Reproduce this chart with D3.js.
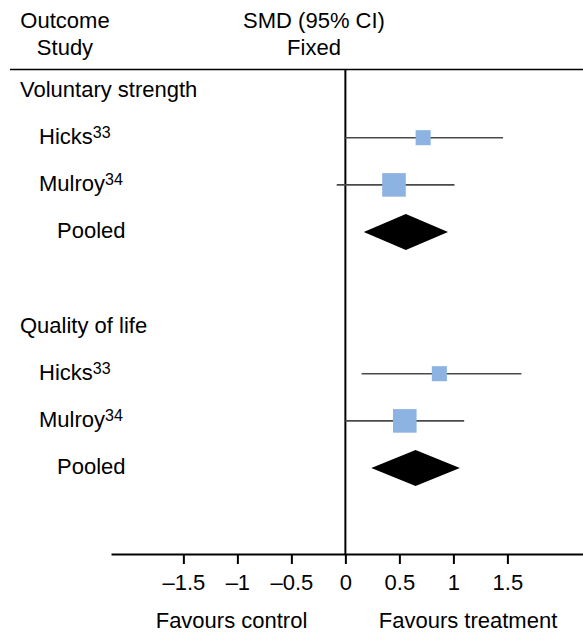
<!DOCTYPE html>
<html>
<head>
<meta charset="utf-8">
<script src="https://cdn.jsdelivr.net/npm/d3@7"></script>
<style>
  html, body { margin: 0; padding: 0; background: #fff; }
  svg { display: block; }
  text { font-family: "Liberation Sans", Arial, sans-serif; fill: #000; }
</style>
</head>
<body>
<svg id="chart" width="583" height="632"></svg>
<script>
// ---- data ----
const rowLabels  = ["Voluntary strength", "Hicks", "Mulroy", "Pooled", "", "Quality of life", "Hicks", "Mulroy", "Pooled"];
const rowRefs    = ["", "33", "34", "", "", "", "33", "34", ""];
const rowKinds   = ["outcome", "study", "study", "pooled", "blank", "outcome", "study", "study", "pooled"];
const estimates  = [null, 0.72, 0.45, 0.56, null, null, 0.87, 0.55, 0.65];
const lowerCI    = [null, -0.01, -0.08, 0.17, null, null, 0.15, 0.00, 0.24];
const upperCI    = [null, 1.46, 1.01, 0.95, null, null, 1.63, 1.10, 1.06];
const weights    = [null, 29, 71, null, null, null, 29, 71, null];
const tickValues = [-1.5, -1, -0.5, 0, 0.5, 1, 1.5];
const headerLeft  = ["Outcome", "Study"];
const headerRight = ["SMD (95% CI)", "Fixed"];
const favourLabels = ["Favours control", "Favours treatment"];

// ---- layout ----
const svg = d3.select("#chart");
const W = 583;
const axisY = 554;
const topLineY = 69.5;

const x = d3.scaleLinear().domain([-2.17, 2.2]).range([111, 583]);
const y = d3.scaleLinear().domain([0, 8]).range([90.5, 468.1]);
const size = d3.scaleSqrt().domain([0, 100]).range([0, 28]);

const rows = rowLabels.map((label, i) => ({
  label, ref: rowRefs[i], kind: rowKinds[i],
  est: estimates[i], lo: lowerCI[i], hi: upperCI[i], w: weights[i], i
}));

// headers
const hdr = svg.append("g").attr("font-size", 22);
headerLeft.forEach((t, k) => {
  hdr.append("text").attr("x", 65).attr("y", 28 + k * 27).attr("text-anchor", "middle").text(t);
});
headerRight.forEach((t, k) => {
  hdr.append("text").attr("x", 314).attr("y", 28 + k * 27).attr("text-anchor", "middle").text(t);
});

// top rule
svg.append("line")
  .attr("x1", 10).attr("x2", W).attr("y1", topLineY).attr("y2", topLineY)
  .attr("stroke", "#000").attr("stroke-width", 1.5);

// zero line
svg.append("line")
  .attr("x1", x(0)).attr("x2", x(0)).attr("y1", topLineY).attr("y2", axisY)
  .attr("stroke", "#000").attr("stroke-width", 2);

// row labels
const labelX = { outcome: 20, study: 39, pooled: 57, blank: 0 };
const lbl = svg.append("g").attr("font-size", 22);
rows.filter(d => d.kind !== "blank").forEach(d => {
  const t = lbl.append("text")
    .attr("x", labelX[d.kind]).attr("y", y(d.i) + 6);
  t.append("tspan").text(d.label);
  if (d.ref) {
    t.append("tspan").attr("font-size", 16).attr("dy", -6).text(d.ref);
  }
});

// CI lines
const studies = rows.filter(d => d.kind === "study");
svg.append("g").selectAll("line").data(studies).join("line")
  .attr("x1", d => x(d.lo)).attr("x2", d => x(d.hi))
  .attr("y1", d => y(d.i)).attr("y2", d => y(d.i))
  .attr("stroke", "#4a4a4a").attr("stroke-width", 1.6);

// squares
svg.append("g").selectAll("rect").data(studies).join("rect")
  .attr("x", d => x(d.est) - size(d.w) / 2)
  .attr("y", d => y(d.i) - size(d.w) / 2)
  .attr("width", d => size(d.w)).attr("height", d => size(d.w))
  .attr("fill", "#8db3e3");

// diamonds
const pooled = rows.filter(d => d.kind === "pooled");
const half = 18;
svg.append("g").selectAll("path").data(pooled).join("path")
  .attr("d", d => {
    const cy = y(d.i);
    return `M${x(d.lo)},${cy}L${x(d.est)},${cy - half}L${x(d.hi)},${cy}L${x(d.est)},${cy + half}Z`;
  })
  .attr("fill", "#000");

// axis
const fmt = v => (v < 0 ? "\u2013" : "") + Math.abs(v);
const axis = svg.append("g")
  .attr("transform", `translate(0,${axisY})`)
  .call(d3.axisBottom(x).tickValues(tickValues).tickFormat(fmt).tickSize(10).tickSizeOuter(0).tickPadding(10));
axis.select(".domain").attr("stroke", "#000").attr("stroke-width", 2);
axis.selectAll(".tick line").attr("stroke", "#000").attr("stroke-width", 2);
axis.selectAll(".tick text")
  .attr("font-size", 22)
  .attr("font-family", "'Liberation Sans', Arial, sans-serif")
  .attr("fill", "#000")
  .attr("dy", "0.71em");

// favours labels
const fav = svg.append("g").attr("font-size", 22);
fav.append("text").attr("x", 231.5).attr("y", 628).attr("text-anchor", "middle").text(favourLabels[0]);
fav.append("text").attr("x", 468).attr("y", 628).attr("text-anchor", "middle").text(favourLabels[1]);
</script>
</body>
</html>
